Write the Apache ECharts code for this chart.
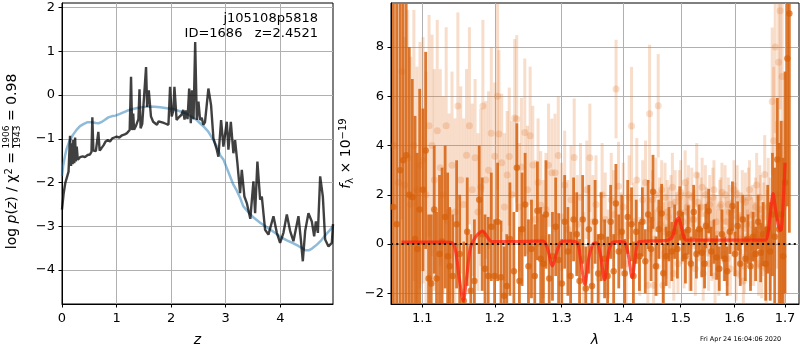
<!DOCTYPE html>
<html><head><meta charset="utf-8">
<script src="https://cdn.jsdelivr.net/npm/echarts@6/dist/echarts.min.js"></script>
<style>html,body{margin:0;padding:0;background:#fff}#c{width:800px;height:350px}</style>
</head><body><div id="c"></div>
<script>
// ---------- left panel: log p(z) ----------
const smoothZ = [0, 0.02, 0.05, 0.08, 0.13, 0.2, 0.27, 0.33, 0.40, 0.47,
  0.55, 0.62, 0.67, 0.72, 0.78, 0.85, 0.92, 0.98, 1.06, 1.19,
  1.30, 1.40, 1.50, 1.60, 1.70, 1.80, 1.92, 2.04, 2.16, 2.29,
  2.40, 2.47, 2.53, 2.61, 2.68, 2.76, 2.84, 2.90, 2.96, 3.02,
  3.08, 3.14, 3.20, 3.26, 3.32, 3.41, 3.51, 3.63, 3.75, 3.88,
  4.00, 4.12, 4.24, 4.33, 4.42, 4.47, 4.52, 4.58, 4.67, 4.75,
  4.82, 4.90, 4.965];
const smoothLogP = [-1.85, -1.63, -1.42, -1.25, -1.07, -0.91, -0.79, -0.71, -0.66, -0.62,
  -0.62, -0.64, -0.645, -0.62, -0.57, -0.51, -0.48, -0.47, -0.43, -0.36,
  -0.32, -0.29, -0.27, -0.26, -0.265, -0.28, -0.30, -0.32, -0.37, -0.43,
  -0.52, -0.57, -0.645, -0.74, -0.835, -1.0, -1.18, -1.38, -1.48, -1.67,
  -1.86, -2.05, -2.18, -2.34, -2.54, -2.67, -2.80, -2.92, -3.02, -3.13,
  -3.24, -3.32, -3.39, -3.45, -3.52, -3.55, -3.55, -3.51, -3.42, -3.32,
  -3.21, -3.10, -3.0];

const pzZ = [0.00, 0.03, 0.06, 0.09, 0.12, 0.147, 0.165, 0.18, 0.195, 0.207,
  0.225, 0.24, 0.255, 0.27, 0.29, 0.33, 0.38, 0.42, 0.47, 0.51,
  0.54, 0.556, 0.575, 0.62, 0.645, 0.666, 0.69, 0.72, 0.76, 0.80,
  0.84, 0.88, 0.92, 0.96, 1.00, 1.05, 1.10, 1.15, 1.19, 1.24,
  1.265, 1.285, 1.305, 1.32, 1.35, 1.38, 1.40, 1.42, 1.44, 1.47,
  1.50, 1.54, 1.56, 1.59, 1.63, 1.67, 1.70, 1.74, 1.77, 1.80,
  1.85, 1.89, 1.95, 1.98, 2.01, 2.04, 2.06, 2.10, 2.13, 2.16,
  2.19, 2.22, 2.245, 2.27, 2.30, 2.33, 2.36, 2.38, 2.41, 2.44,
  2.47, 2.50, 2.53, 2.56, 2.59, 2.62, 2.65, 2.682, 2.731, 2.774,
  2.80, 2.836, 2.865, 2.915, 2.957, 3.019, 3.049, 3.093, 3.14, 3.171,
  3.214, 3.263, 3.294, 3.342, 3.386, 3.45, 3.507, 3.538, 3.58, 3.63,
  3.661, 3.721, 3.782, 3.874, 3.936, 3.996, 4.057, 4.119, 4.18, 4.24,
  4.332, 4.376, 4.412, 4.455, 4.515, 4.577, 4.62, 4.651, 4.688, 4.73,
  4.779, 4.821, 4.882, 4.944, 4.965];
const pzLogP = [-2.62, -2.25, -2.01, -1.88, -1.75, -0.93, -1.62, -1.10, -1.58, -1.03,
  -1.56, -0.97, -1.52, -1.18, -1.48, -1.42, -1.40, -1.42, -1.37, -1.36,
  -1.30, -0.51, -1.27, -1.28, -1.25, -0.84, -1.27, -1.22, -1.15, -1.06,
  -1.03, -1.06, -0.99, -0.97, -0.95, -0.97, -0.92, -0.90, -0.87, -0.80,
  0.42, -0.80, -0.42, -0.79, -0.72, -0.76, -0.55, 0.13, -0.76, -0.66,
  -0.70, 0.64, -0.27, 0.11, -0.49, -0.61, -0.65, -0.68, -0.60, -0.61,
  -0.63, -0.65, -0.68, 0.19, -0.49, -0.35, 0.19, -0.57, -0.52, -0.56,
  -0.45, -0.34, -0.56, -0.35, -0.55, 0.15, -0.645, 0.11, -0.55, 1.21,
  -0.57, -0.15, -0.57, -0.52, -0.68, -0.62, -0.645, 0.15, -0.23, -0.99,
  -1.10, -1.25, -1.41, -0.57, -1.18, -0.61, -1.25, -0.61, -1.33, -1.03,
  -1.56, -2.24, -1.71, -2.32, -2.47, -2.83, -1.97, -2.70, -1.52, -2.39,
  -2.32, -3.08, -3.19, -2.77, -3.15, -3.38, -3.15, -2.73, -3.11, -3.34,
  -2.77, -3.30, -3.80, -3.11, -2.70, -2.89, -3.23, -2.89, -3.15, -1.86,
  -2.32, -3.30, -3.46, -3.38, -2.95];

// ---------- right panel: spectrum ----------
const lamTicks = [1.1, 1.2, 1.3, 1.4, 1.5, 1.6, 1.7];

const darkLam = [1.0625, 1.0668, 1.0712, 1.0750, 1.0790, 1.0830, 1.0869, 1.0905, 1.0934, 1.0966,
  1.1009, 1.1045, 1.1084, 1.1119, 1.1159, 1.1190, 1.1230, 1.1265, 1.1306, 1.1340,
  1.1368, 1.1410, 1.1463, 1.1505, 1.1562, 1.1610, 1.1660, 1.1710, 1.1778, 1.1820,
  1.1860, 1.1906, 1.1950, 1.1997, 1.2041, 1.2090, 1.2135, 1.2174, 1.2220, 1.2278,
  1.2322, 1.2360, 1.2400, 1.2445, 1.2495, 1.2540, 1.2590, 1.2630, 1.2680, 1.2720,
  1.2760, 1.2810, 1.2860, 1.2910, 1.2955, 1.3005, 1.3050, 1.3100, 1.3143, 1.3190,
  1.3240, 1.3285, 1.3335, 1.3385, 1.3434, 1.3485, 1.3535, 1.3585, 1.3635, 1.3690,
  1.3740, 1.3790, 1.3840, 1.3877, 1.3925, 1.3975, 1.4025, 1.4075, 1.4140, 1.4172,
  1.4220, 1.4275, 1.4325, 1.4375, 1.4425, 1.4475, 1.4509, 1.4560, 1.4610, 1.4660,
  1.4690, 1.4740, 1.4790, 1.4840, 1.4890, 1.4940, 1.4983, 1.5035, 1.5085, 1.5135,
  1.5185, 1.5235, 1.5285, 1.5335, 1.5385, 1.5435, 1.5460, 1.5510, 1.5560, 1.5610,
  1.5660, 1.5710, 1.5760, 1.5810, 1.5860, 1.5910, 1.5960, 1.6010, 1.6060, 1.6110,
  1.6160, 1.6210, 1.6260, 1.6310, 1.6360, 1.6410, 1.6460, 1.6510, 1.6560, 1.6610,
  1.6650, 1.6700, 1.6745, 1.6790, 1.6843, 1.6880, 1.6920, 1.6960, 1.7000, 1.7047,
  1.7088];
const darkFlux = [1.5, 0.8, 3.0, 3.4, 3.6, 2.0, 1.9, 0.2, -0.2, 1.4,
  2.2, 3.8, -1.4, -1.6, 1.4, -1.4, -0.4, 0.1, 1.1, -0.5,
  -0.9, -1.3, 0.8, -0.4, -2.3, 0.5, -1.9, -1.5, 1.8, 0.4,
  -1.0, -1.3, 0.7, -1.3, 0.9, -1.35, -2.1, -1.7, 0.2, -1.1,
  3.1, -1.5, 0.6, 1.6, -0.9, -0.2, -1.3, 1.35, -0.6, -0.8,
  1.2, -1.4, -0.5, 0.7, -0.65, -1.6, 0.9, -0.3, -1.3, 1.0,
  0.4, -1.5, 1.0, -1.8, 0.6, -1.7, 0.9, -1.2, 0.3, -0.6,
  -1.3, 0.9, -1.1, 1.65, -0.3, 0.5, -1.2, 1.1, 0.8, -1.3,
  0.5, -0.5, 0.9, -0.7, 1.2, -0.2, 2.12, -0.9, 0.6, 1.24,
  -1.19, -0.5, 0.4, -0.3, 0.5, -0.2, 1.24, 0.3, -0.5, 0.57,
  -0.8, 1.3, -0.4, 0.6, -0.35, -0.8, 0.73, 1.34, -0.3, 0.1,
  -0.55, -1.0, 0.4, -0.6, -1.1, 0.5, 1.54, -0.4, 0.73, -0.8,
  1.0, -0.6, 0.2, -0.9, 0.3, -0.4, 0.9, -0.35, 0.4, -0.8,
  0.6, -0.3, 1.2, 0.3, 3.43, 0.6, 1.2, -0.5, 2.5, 7.53,
  9.36];
const darkErr = [12, 12, 10, 8, 7, 6, 4.8, 5, 3.9, 4.9,
  3.3, 4.0, 2.6, 2.8, 2.6, 2.7, 3.2, 3.0, 2.9, 3.4,
  2.4, 2.5, 2.6, 2.4, 2.4, 2.2, 2.3, 2.5, 2.2, 2.3,
  2.2, 2.4, 2.2, 2.3, 2.4, 2.3, 2.0, 2.1, 2.3, 2.4,
  1.8, 2.2, 2.3, 2.1, 1.9, 2.0, 2.1, 2.0, 2.1, 2.0,
  2.2, 1.8, 1.8, 2.0, 1.9, 1.8, 1.9, 1.8, 1.8, 1.7,
  1.7, 1.7, 1.8, 1.7, 1.8, 1.6, 1.7, 1.6, 1.8, 1.6,
  1.6, 1.5, 1.5, 1.6, 1.5, 1.5, 1.4, 1.5, 1.5, 1.4,
  1.3, 1.4, 1.4, 1.3, 1.4, 1.3, 1.5, 1.2, 1.2, 1.2,
  1.2, 1.2, 1.1, 1.2, 1.1, 1.2, 1.1, 1.0, 1.1, 1.0,
  1.1, 1.1, 1.0, 1.0, 1.0, 1.0, 0.9, 0.9, 1.0, 0.9,
  0.9, 0.9, 1.0, 0.9, 1.0, 0.9, 1.0, 0.9, 1.0, 0.9,
  1.0, 0.9, 1.0, 1.0, 1.0, 1.1, 1.1, 1.2, 1.3, 1.5,
  1.8, 2.0, 2.5, 2.8, 2.5, 3.5, 3.8, 4.0, 4.5, 6,
  8.9];

const lightLam = [1.0640, 1.0690, 1.0735, 1.0770, 1.0810, 1.0850, 1.0890, 1.0930, 1.0970, 1.1010,
  1.1050, 1.1090, 1.1130, 1.1160, 1.1200, 1.1240, 1.1280, 1.1320, 1.1360, 1.1400,
  1.1440, 1.1480, 1.1520, 1.1560, 1.1600, 1.1640, 1.1680, 1.1720, 1.1760, 1.1800,
  1.1830, 1.1870, 1.1910, 1.1950, 1.2000, 1.2040, 1.2060, 1.2100, 1.2140, 1.2180,
  1.2210, 1.2250, 1.2290, 1.2320, 1.2360, 1.2390, 1.2440, 1.2480, 1.2520, 1.2560,
  1.2600, 1.2640, 1.2680, 1.2720, 1.2760, 1.2800, 1.2850, 1.2900, 1.2950, 1.3000,
  1.3050, 1.3100, 1.3150, 1.3200, 1.3250, 1.3300, 1.3350, 1.3400, 1.3450, 1.3500,
  1.3550, 1.3600, 1.3650, 1.3700, 1.3750, 1.3800, 1.3840, 1.3880, 1.3920, 1.3960,
  1.4000, 1.4050, 1.4100, 1.4140, 1.4180, 1.4230, 1.4280, 1.4330, 1.4380, 1.4420,
  1.4450, 1.4480, 1.4520, 1.4560, 1.4600, 1.4640, 1.4680, 1.4720, 1.4760, 1.4800,
  1.4850, 1.4900, 1.4950, 1.5000, 1.5040, 1.5080, 1.5120, 1.5160, 1.5200, 1.5240,
  1.5290, 1.5330, 1.5370, 1.5410, 1.5450, 1.5490, 1.5530, 1.5570, 1.5610, 1.5650,
  1.5700, 1.5740, 1.5780, 1.5820, 1.5860, 1.5900, 1.5940, 1.5990, 1.6030, 1.6070,
  1.6110, 1.6150, 1.6190, 1.6230, 1.6270, 1.6310, 1.6350, 1.6390, 1.6430, 1.6470,
  1.6510, 1.6550, 1.6590, 1.6620, 1.6660, 1.6700, 1.6740, 1.6770, 1.6800, 1.6830,
  1.6870, 1.6900, 1.6940, 1.6970];
const lightFlux = [4.0, 2.5, 7.0, 2.4, 3.5, 1.6, 4.0, 2.2, 3.2, 3.4,
  2.0, 4.8, 4.0, 2.6, 4.6, 3.1, 2.0, 4.8, 1.3, 3.2,
  1.3, 5.6, 2.6, 1.6, 3.6, 4.8, 2.2, 3.5, 1.3, 2.3,
  5.6, 2.6, 3.0, 4.5, 3.56, 6.0, 4.47, 3.3, 1.5, 2.8,
  3.55, 2.0, 5.12, 5.08, 1.5, 3.13, 4.53, 2.2, 4.4, 3.21,
  1.0, 2.5, 1.57, 0.2, 1.4, 3.2, 2.89, 2.89, 3.59, 1.1,
  2.4, 0.6, 1.8, 3.51, 0.8, 1.9, -0.6, 2.2, 3.5, 0.9,
  1.6, -1.4, 2.0, 1.0, -0.4, 1.8, 1.2, 6.29, 2.35, 0.4,
  1.5, -0.8, 1.9, 4.79, 0.9, 2.6, -0.5, 1.8, 2.5, -1.67,
  5.29, 1.0, -1.67, 2.0, 5.61, 0.8, -1.67, 1.9, 1.3, -0.5,
  2.3, 1.7, -0.8, 2.1, 0.9, 2.5, 1.5, -0.7, 1.9, 1.0,
  2.8, 0.4, 1.5, -1.2, 2.0, 0.6, 1.6, -0.4, 2.2, 0.9,
  -1.0, 1.6, 0.3, 2.0, -0.6, 1.3, 0.7, 2.2, -1.2, 1.1,
  0.2, 1.8, -0.9, 0.8, 1.9, -0.5, 1.2, 0.5, 2.4, -0.8,
  1.4, 0.2, 2.82, -1.0, 1.5, 0.4, 5.79, 4.19, 8.0, 2.0,
  7.38, 9.47, 6.8, 1.5];
const lightErr = [9, 8, 6, 6, 6, 6, 5.5, 5, 5, 5,
  5, 4.5, 4.5, 4.5, 4.5, 4, 4, 4, 4, 3.8,
  3.8, 3.8, 3.8, 3.5, 3.5, 4, 3.5, 3.2, 3.2, 3.2,
  3.5, 3.2, 3.2, 3.5, 3.0, 3.8, 3.4, 2.8, 3.0, 2.6,
  2.8, 3.0, 3.2, 3.4, 2.6, 2.8, 3.0, 2.6, 2.8, 2.4,
  2.4, 2.6, 2.2, 2.4, 2.3, 2.5, 2.2, 2.4, 2.4, 2.2,
  2.2, 2.0, 2.2, 2.4, 2.0, 2.2, 1.9, 2.0, 2.2, 1.9,
  2.0, 1.8, 2.1, 1.9, 1.8, 1.9, 1.8, 2.0, 1.8, 1.7,
  1.8, 1.7, 1.7, 2.4, 1.6, 1.7, 1.6, 1.6, 1.7, 1.5,
  2.8, 1.5, 1.5, 1.5, 2.1, 1.4, 1.4, 1.4, 1.3, 1.3,
  1.4, 1.3, 1.2, 1.3, 1.2, 1.3, 1.2, 1.2, 1.2, 1.2,
  1.3, 1.1, 1.2, 1.1, 1.2, 1.1, 1.2, 1.1, 1.2, 1.1,
  1.1, 1.1, 1.1, 1.2, 1.1, 1.1, 1.1, 1.2, 1.1, 1.1,
  1.1, 1.2, 1.1, 1.1, 1.2, 1.2, 1.2, 1.2, 1.3, 1.3,
  1.4, 1.5, 1.6, 1.8, 2.0, 2.3, 3.0, 3.0, 3.5, 3.0,
  3.5, 4.0, 4.0, 3.5];

// second exposure: dense faint cloud at the red end
const lightLamB = [1.4460, 1.4500, 1.4540, 1.4580, 1.4620, 1.4660, 1.4700, 1.4740, 1.4780, 1.4825,
  1.4875, 1.4925, 1.4975, 1.5020, 1.5060, 1.5100, 1.5140, 1.5180, 1.5220, 1.5265,
  1.5310, 1.5350, 1.5390, 1.5430, 1.5470, 1.5510, 1.5550, 1.5590, 1.5630, 1.5675,
  1.5720, 1.5760, 1.5800, 1.5840, 1.5880, 1.5920, 1.5965, 1.6010, 1.6050, 1.6090,
  1.6130, 1.6170, 1.6210, 1.6250, 1.6290, 1.6330, 1.6370, 1.6410, 1.6450, 1.6490,
  1.6530, 1.6570, 1.6640];
const lightFluxB = [0.6, 1.8, 0.2, -0.9, 1.4, 2.2, 0.5, -0.3, 1.1, 1.6,
  -1.2, 0.9, 1.9, 0.3, -0.6, 1.3, 2.0, 0.1, 1.0, -1.0,
  1.7, 0.6, 2.3, -0.2, 1.2, -0.8, 0.8, 1.9, -1.3, 0.4,
  1.5, 2.1, -0.4, 0.9, 1.6, -1.0, 0.5, 1.4, 2.0, -0.3,
  1.0, -1.5, 1.7, 0.3, 2.2, 0.8, -0.6, 1.5, 0.2, 1.9,
  -0.9, 1.1, 0.6];
const lightErrB = [1.3, 1.2, 1.2, 1.2, 1.3, 1.2, 1.2, 1.1, 1.2, 1.2,
  1.1, 1.2, 1.1, 1.1, 1.2, 1.1, 1.2, 1.1, 1.1, 1.1,
  1.2, 1.0, 1.2, 1.1, 1.1, 1.1, 1.1, 1.2, 1.1, 1.0,
  1.1, 1.2, 1.1, 1.0, 1.1, 1.1, 1.0, 1.1, 1.2, 1.1,
  1.1, 1.1, 1.2, 1.1, 1.2, 1.1, 1.1, 1.2, 1.2, 1.3,
  1.3, 1.4, 1.6];

const modelLam = [1.0730, 1.1000, 1.1300, 1.1400, 1.1450, 1.1500, 1.1555, 1.1600, 1.1650, 1.1700,
  1.1760, 1.1826, 1.1880, 1.1940, 1.2000, 1.2300, 1.2600, 1.2720, 1.2780, 1.2860,
  1.2930, 1.2990, 1.3050, 1.3150, 1.3250, 1.3300, 1.3370, 1.3430, 1.3500, 1.3560,
  1.3620, 1.3690, 1.3760, 1.3830, 1.3950, 1.4030, 1.4090, 1.4150, 1.4210, 1.4260,
  1.4400, 1.4750, 1.4850, 1.4910, 1.4960, 1.5010, 1.5060, 1.5100, 1.5600, 1.6200,
  1.6600, 1.6660, 1.6710, 1.6757, 1.6800, 1.6850, 1.6900, 1.6925, 1.6960, 1.7000];
const modelFlux = [0.08, 0.08, 0.08, 0.06, -0.3, -1.4, -2.3, -1.4, -0.2, 0.15,
  0.4, 0.53, 0.35, 0.12, 0.1, 0.1, 0.12, 0.12, -0.15, -0.89,
  -0.3, 0.08, 0.12, 0.12, 0.05, -0.6, -1.63, -0.6, 0.0, 0.05,
  -0.4, -1.45, -0.3, 0.08, 0.1, 0.05, -0.5, -1.36, -0.4, 0.08,
  0.12, 0.15, 0.3, 0.85, 1.07, 0.7, 0.25, 0.16, 0.16, 0.16,
  0.16, 0.5, 1.4, 2.05, 1.5, 0.9, 0.55, 0.6, 1.6, 3.3];

// ---------- build ----------
const FONT = 'DejaVu Sans';
const fmtMinus = v => String(v).replace('-', '\u2212');
const zip2 = (a, b) => a.map((v, i) => [v, b[i]]);
const zip3 = (a, b, c) => a.map((v, i) => [v, b[i], c[i]]);

function errBars(data, color, width, z) {
  return {
    type: 'custom', xAxisIndex: 1, yAxisIndex: 1, z: z, silent: true, animation: false,
    data: data, encode: { x: 0, y: 1 },
    renderItem: function (params, api) {
      const cs = params.coordSys;
      const x = api.value(0), y = api.value(1), e = api.value(2);
      const a = api.coord([x, y + e]), b = api.coord([x, y - e]);
      if (a[0] < cs.x || a[0] > cs.x + cs.width) return null;
      const clamp = v => Math.max(cs.y, Math.min(cs.y + cs.height, v));
      return { type: 'line', shape: { x1: a[0], y1: clamp(a[1]), x2: a[0], y2: clamp(b[1]) },
        style: { stroke: color, lineWidth: width } };
    }
  };
}

const lightData = zip3(lightLam, lightFlux, lightErr).concat(zip3(lightLamB, lightFluxB, lightErrB));
const darkData = zip3(darkLam, darkFlux, darkErr);

const axisCommon = {
  axisLine: { show: true, onZero: false, lineStyle: { color: '#000', width: 1 } },
  axisTick: { show: true, inside: false, length: 3.5, lineStyle: { color: '#000', width: 1 } },
  splitLine: { show: true, showMinLine: false, showMaxLine: false, lineStyle: { color: '#b0b0b0', width: 1 } },
  nameMoveOverlap: false
};
const labelCommon = { color: '#000', fontFamily: FONT, fontSize: 13, formatter: fmtMinus };

const option = {
  animation: false,
  backgroundColor: '#fff',
  grid: [
    { left: 62, top: 3, width: 271, height: 301, show: true, borderColor: '#000', borderWidth: 1, backgroundColor: 'transparent', containLabel: false, outerBoundsMode: 'none' },
    { left: 391, top: 3, width: 408, height: 301, show: true, borderColor: '#000', borderWidth: 1, backgroundColor: 'transparent', containLabel: false, outerBoundsMode: 'none' }
  ],
  xAxis: [
    Object.assign({}, axisCommon, {
      gridIndex: 0, type: 'value', min: 0, max: 4.965,
      axisLabel: Object.assign({}, labelCommon, { margin: 8, showMaxLabel: false }),
      name: 'z', nameLocation: 'middle', nameGap: 29,
      nameTextStyle: { color: '#000', fontFamily: FONT, fontSize: 14, fontStyle: 'italic' }
    }),
    Object.assign({}, axisCommon, {
      gridIndex: 1, type: 'log', logBase: 10, min: 1.0595, max: 1.7287,
      axisLabel: Object.assign({}, labelCommon, { margin: 8, customValues: lamTicks, formatter: v => Number(v).toFixed(1) }),
      axisTick: { show: true, inside: false, length: 3.5, customValues: lamTicks, lineStyle: { color: '#000', width: 1 } },
      splitLine: { show: false },
      name: 'λ', nameLocation: 'middle', nameGap: 29,
      nameTextStyle: { color: '#000', fontFamily: FONT, fontSize: 14, fontStyle: 'italic' }
    })
  ],
  yAxis: [
    Object.assign({}, axisCommon, {
      gridIndex: 0, type: 'value', min: -4.777, max: 2.105,
      axisLabel: Object.assign({}, labelCommon, { margin: 7, showMinLabel: false, showMaxLabel: false })
    }),
    Object.assign({}, axisCommon, {
      gridIndex: 1, type: 'value', min: -2.434, max: 9.784,
      axisLabel: Object.assign({}, labelCommon, { margin: 7, showMinLabel: false, showMaxLabel: false }),
      name: '{i|f}{sub|λ} × 10{sup|−19}', nameLocation: 'middle', nameRotate: 90, nameGap: 36,
      nameTextStyle: { color: '#000', fontFamily: FONT, fontSize: 14,
        rich: {
          i: { fontStyle: 'italic', fontFamily: FONT, fontSize: 14, color: '#000' },
          sub: { fontFamily: FONT, fontSize: 10, color: '#000', verticalAlign: 'bottom', padding: [6, 0, 0, 0] },
          sup: { fontFamily: FONT, fontSize: 10, color: '#000', verticalAlign: 'top', padding: [0, 0, 7, 0] }
        } }
    })
  ],
  series: [
    { type: 'line', xAxisIndex: 0, yAxisIndex: 0, data: zip2(smoothZ, smoothLogP), showSymbol: false, z: 2,
      lineStyle: { color: 'rgba(31,119,180,0.5)', width: 2.5 }, silent: true },
    { type: 'line', xAxisIndex: 0, yAxisIndex: 0, data: zip2(pzZ, pzLogP), showSymbol: false, z: 3,
      lineStyle: { color: 'rgba(0,0,0,0.75)', width: 2.4 }, silent: true },
    // vertical grid lines on the log axis
    { type: 'custom', xAxisIndex: 1, yAxisIndex: 1, z: 0, silent: true,
      data: lamTicks.map(v => [v, 0]), encode: { x: 0, y: 1 },
      renderItem: function (params, api) {
        const cs = params.coordSys; const p = api.coord([api.value(0), 0]);
        return { type: 'line', shape: { x1: Math.round(p[0]) + 0.5, y1: cs.y, x2: Math.round(p[0]) + 0.5, y2: cs.y + cs.height },
          style: { stroke: '#b0b0b0', lineWidth: 1 } };
      } },
    errBars(lightData, 'rgba(226,120,45,0.25)', 3, 1),
    { type: 'scatter', xAxisIndex: 1, yAxisIndex: 1, data: lightData.map(d => [d[0], d[1]]), symbolSize: 7, z: 1, silent: true,
      itemStyle: { color: 'rgba(226,120,45,0.3)' } },
    errBars(darkData, 'rgba(214,98,14,0.85)', 2.8, 2),
    { type: 'scatter', xAxisIndex: 1, yAxisIndex: 1, data: zip2(darkLam, darkFlux), symbolSize: 6.5, z: 2, silent: true,
      itemStyle: { color: 'rgba(214,96,10,0.9)' } },
    { type: 'line', xAxisIndex: 1, yAxisIndex: 1, data: zip2(modelLam, modelFlux), showSymbol: false, z: 3, smooth: 0.3,
      lineStyle: { color: 'rgba(255,30,15,0.72)', width: 3.2 }, silent: true,
      markLine: { silent: true, symbol: 'none', animation: false, data: [{ yAxis: 0 }],
        label: { show: false }, lineStyle: { color: '#111', type: [2, 3.3], width: 2 } } }
  ],
  graphic: [
    { type: 'text', z: 100, right: 800 - 318, top: 12, style: { text: 'j105108p5818', font: '13px "DejaVu Sans"', fill: '#000', align: 'right' } },
    { type: 'text', z: 100, right: 800 - 318, top: 27, style: { text: 'ID=1686   z=2.4521', font: '13px "DejaVu Sans"', fill: '#000', align: 'right' } },
    { type: 'text', z: 100, left: 700, top: 336, style: { text: 'Fri Apr 24 16:04:06 2020', font: '6.5px "DejaVu Sans"', fill: '#000' } },
    { type: 'group', z: 100, x: 12, y: 154, rotation: Math.PI / 2, children: [
      { type: 'text', x: 2, y: 0, style: {
          text: 'log {i|p}({i|z}) / χ{s|2} =', font: '14px "DejaVu Sans"', fill: '#000', align: 'right', verticalAlign: 'middle',
          rich: { i: { fontStyle: 'italic', fontFamily: FONT, fontSize: 14, fill: '#000' },
                  s: { fontFamily: FONT, fontSize: 10, fill: '#000', verticalAlign: 'top', padding: [0, 0, 6, 0] } } } },
      { type: 'text', x: 17, y: -5, style: { text: '1906', font: '9px "DejaVu Sans"', fill: '#000', align: 'center', verticalAlign: 'middle' } },
      { type: 'line', shape: { x1: 6, y1: 0.5, x2: 28, y2: 0.5 }, style: { stroke: '#000', lineWidth: 0.8 } },
      { type: 'text', x: 17, y: 6, style: { text: '1943', font: '9px "DejaVu Sans"', fill: '#000', align: 'center', verticalAlign: 'middle' } },
      { type: 'text', x: 33, y: 0, style: { text: '= 0.98', font: '14px "DejaVu Sans"', fill: '#000', align: 'left', verticalAlign: 'middle' } }
    ] }
  ]
};
const chart = echarts.init(document.getElementById('c'), null, { renderer: 'canvas' });
chart.setOption(option);
</script>
</body></html>
